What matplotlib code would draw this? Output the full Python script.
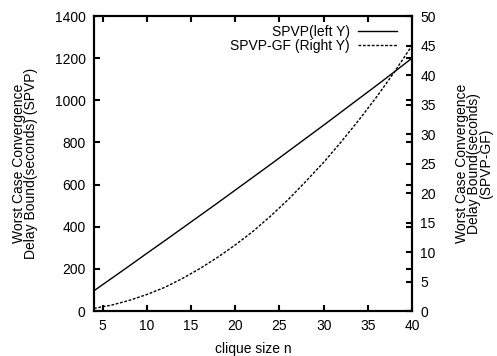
import matplotlib

matplotlib.use("Agg")
import matplotlib.pyplot as plt

plt.rcParams["font.family"] = ["Liberation Sans", "DejaVu Sans"]
plt.rcParams["font.size"] = 10

# values
clique_size = [4, 6, 8, 10, 12, 14, 16, 18, 20, 22, 24, 26, 28, 30, 32, 34, 36, 38, 40]
spvp_bound = [96, 155, 214, 274, 333, 393, 453, 513, 574, 635, 696, 758, 820, 882,
              945, 1008, 1071, 1135, 1200]
spvp_gf_bound = [0.45, 1.0, 1.8, 2.8, 4.0, 5.5, 7.2, 9.1, 11.2, 13.5, 16.1, 18.9, 22.0,
                 25.2, 28.7, 32.4, 36.3, 40.5, 45.0]

x_ticks = [5, 10, 15, 20, 25, 30, 35, 40]
left_ticks = [0, 200, 400, 600, 800, 1000, 1200, 1400]
right_ticks = [0, 5, 10, 15, 20, 25, 30, 35, 40, 45, 50]

fig = plt.figure(figsize=(4.97, 3.56), dpi=100)
axis = fig.add_axes([0.189, 0.1264, 0.640, 0.8286])
axis2 = axis.twinx()

line1, = axis.plot(clique_size, spvp_bound, color="black", linewidth=1.0,
                   label="SPVP(left Y)")
line2, = axis2.plot(clique_size, spvp_gf_bound, color="black", linewidth=1.0,
                    linestyle=(0, (2, 1.2)), label="SPVP-GF (Right Y)")

axis.set_xlim(4, 40)
axis.set_ylim(0, 1400)
axis2.set_ylim(0, 50)
axis.set_xticks(x_ticks)
axis.set_yticks(left_ticks)
axis2.set_yticks(right_ticks)

axis.tick_params(axis="both", direction="in", length=4, width=1.5, pad=6)
axis.tick_params(axis="x", top=True)
axis.tick_params(axis="y", right=True)
axis2.tick_params(axis="y", direction="in", length=4, width=1.5, pad=6)

for spine in list(axis.spines.values()) + list(axis2.spines.values()):
    spine.set_linewidth(1.5)

axis.set_xlabel("clique size n", labelpad=6)
axis.set_ylabel("Worst Case Convergence\nDelay Bound(seconds) (SPVP)",
                labelpad=12, linespacing=0.82)
axis2.set_ylabel("Worst Case Convergence\nDelay Bound(seconds)\n(SPVP-GF)",
                 rotation=90, labelpad=14, linespacing=0.8)

axis2.legend(handles=[line1, line2], loc="upper right", frameon=False,
             markerfirst=False, handlelength=2.8, handletextpad=0.6,
             labelspacing=0.05, borderaxespad=0.0,
             bbox_to_anchor=(0.97, 0.99))

fig.savefig("out.png")
plt.close(fig)
